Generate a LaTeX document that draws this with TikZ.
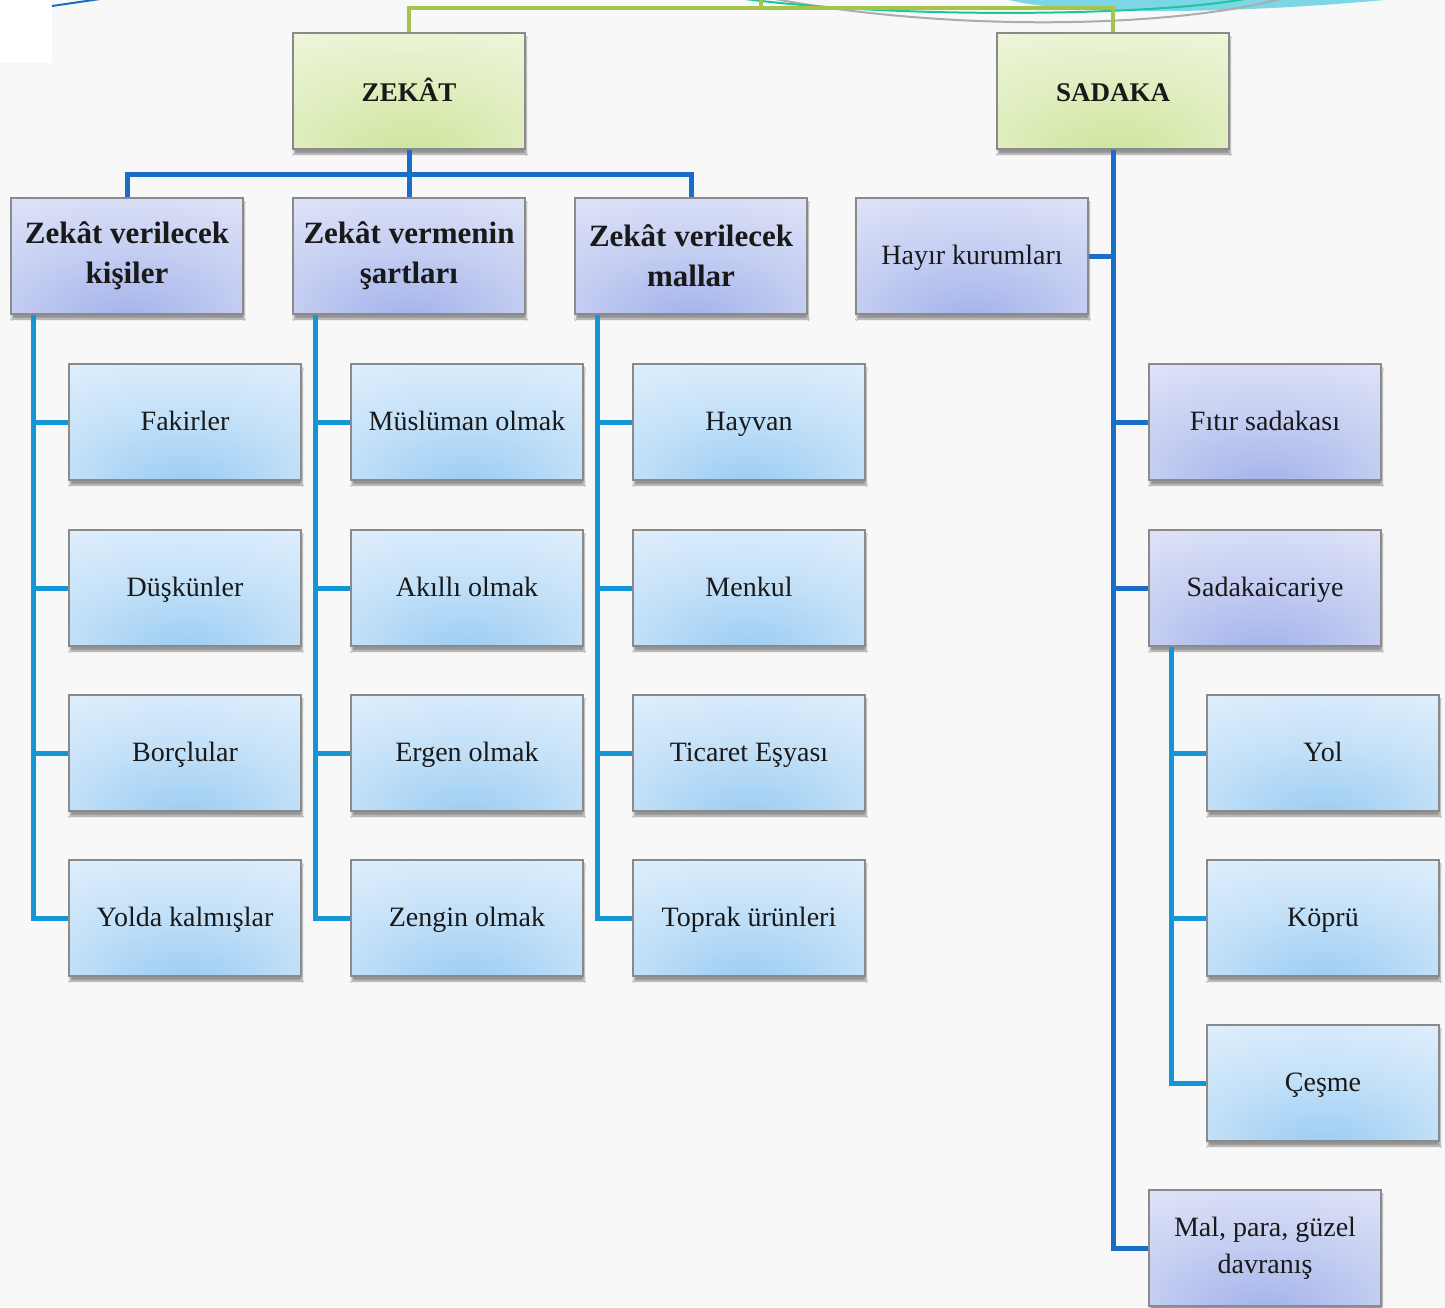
\documentclass[tikz,border=0pt]{standalone}
\usepackage{fontspec}
\setmainfont{Liberation Serif}
\usetikzlibrary{shadows.blur,calc}
\definecolor{bgc}{HTML}{F8F8F8}
\definecolor{leafin}{HTML}{98CBF3}
\definecolor{leafmid}{HTML}{C4E1F8}
\definecolor{leafout}{HTML}{E8F3FD}
\definecolor{lavin}{HTML}{A1B0EA}
\definecolor{lavmid}{HTML}{C6CFF2}
\definecolor{lavout}{HTML}{E7EAF9}
\definecolor{grnin}{HTML}{CDE49A}
\definecolor{grnmid}{HTML}{E0EEC0}
\definecolor{grnout}{HTML}{F3F8E5}
\definecolor{darkblue}{HTML}{1A6EC7}
\definecolor{lightblue}{HTML}{1496D6}
\definecolor{grline}{HTML}{A4C44A}
\definecolor{blobc}{HTML}{7DD6E6}
\definecolor{tealc}{HTML}{1CC79E}
\definecolor{borderc}{HTML}{8A8A8A}
\pgfdeclareradialshading{leafsh}{\pgfpoint{0bp}{-30bp}}{color(0bp)=(leafin); color(26bp)=(leafmid); color(55bp)=(leafout); color(100bp)=(leafout)}
\pgfdeclareradialshading{lavsh}{\pgfpoint{0bp}{-30bp}}{color(0bp)=(lavin); color(26bp)=(lavmid); color(55bp)=(lavout); color(100bp)=(lavout)}
\pgfdeclareradialshading{grnsh}{\pgfpoint{0bp}{-30bp}}{color(0bp)=(grnin); color(26bp)=(grnmid); color(55bp)=(grnout); color(100bp)=(grnout)}
\tikzset{
  boxbase/.style={draw=borderc, line width=1.4pt, minimum width=232pt, minimum height=116pt,
    inner sep=0pt, align=center, text=black!90,
    blur shadow={shadow xshift=1pt, shadow yshift=-5pt, shadow blur steps=6, shadow opacity=40}},
  oneline/.style={text height=19pt, text depth=3pt},
  leafbox/.style={boxbase, oneline, shading=leafsh, font=\fontsize{28}{40}\selectfont},
  lavbox/.style={boxbase, oneline, shading=lavsh, font=\fontsize{28}{40}\selectfont},
  lavtwo/.style={boxbase, shading=lavsh, font=\fontsize{28}{37}\selectfont},
  catbox/.style={boxbase, shading=lavsh, font=\fontsize{31}{40}\selectfont\bfseries},
  topbox/.style={boxbase, shading=grnsh, text height=20pt, text depth=0pt, font=\fontsize{27}{40}\selectfont\bfseries},
  dconn/.style={draw=darkblue, line width=5pt},
  lconn/.style={draw=lightblue, line width=5pt},
  gconn/.style={draw=grline, line width=4.5pt}
}
\begin{document}
\begin{tikzpicture}[x=1pt,y=-1pt]
\useasboundingbox (0,0) rectangle (1445,1307);
\fill[bgc] (0,0) rectangle (1445,1307);
\fill[white] (0,0) rectangle (52,63);
% decorative top curves
\fill[blobc] (1005,-1) .. controls (1070,17) and (1250,13) .. (1395,-1) -- cycle;
\draw[gray!65, line width=2pt] (775,-1) .. controls (950,32) and (1170,28) .. (1280,-1);
\draw[tealc, line width=2pt] (745,-1) .. controls (900,19) and (1150,16) .. (1245,-1);
\draw[darkblue, line width=2pt] (52,6) -- (100,-1);

% nodes
\node[topbox] (zekat) at (409,91) {ZEKÂT};
\node[topbox] (sadaka) at (1113,91) {SADAKA};

\node[catbox] (zk1) at (127,256) {Zekât verilecek\\kişiler};
\node[catbox] (zk2) at (409,256) {Zekât vermenin\\şartları};
\node[catbox] (zk3) at (691,256) {Zekât verilecek\\mallar};
\node[lavbox] (hayir) at (972,256) {Hayır kurumları};

\node[leafbox] (a1) at (185,422) {Fakirler};
\node[leafbox] (a2) at (185,588) {Düşkünler};
\node[leafbox] (a3) at (185,753) {Borçlular};
\node[leafbox] (a4) at (185,918) {Yolda kalmışlar};

\node[leafbox] (b1) at (467,422) {Müslüman olmak};
\node[leafbox] (b2) at (467,588) {Akıllı olmak};
\node[leafbox] (b3) at (467,753) {Ergen olmak};
\node[leafbox] (b4) at (467,918) {Zengin olmak};

\node[leafbox] (c1) at (749,422) {Hayvan};
\node[leafbox] (c2) at (749,588) {Menkul};
\node[leafbox] (c3) at (749,753) {Ticaret Eşyası};
\node[leafbox] (c4) at (749,918) {Toprak ürünleri};

\node[lavbox] (fitir) at (1265,422) {Fıtır sadakası};
\node[lavbox] (sadakai) at (1265,588) {Sadakaicariye};
\node[leafbox] (yol) at (1323,753) {Yol};
\node[leafbox] (kopru) at (1323,918) {Köprü};
\node[leafbox] (cesme) at (1323,1083) {Çeşme};
\node[lavtwo] (mal) at (1265,1248) {Mal, para, güzel\\davranış};

% green connectors
\coordinate (gbus) at (761,8);
\coordinate (gtop) at (761,-1);
\draw[gconn] (zekat.north) |- (gbus) -| (sadaka.north);
\draw[gconn] (gbus) -- (gtop);

% zekat connectors
\coordinate (zbus) at (409,174);
\draw[dconn] (zekat.south) -- (zk2.north);
\draw[dconn] (zk1.north) |- (zbus) -| (zk3.north);

% leaf connectors
\foreach \p/\l in {zk1/a1,zk1/a2,zk1/a3,zk1/a4,zk2/b1,zk2/b2,zk2/b3,zk2/b4,zk3/c1,zk3/c2,zk3/c3,zk3/c4,sadakai/yol,sadakai/kopru,sadakai/cesme}
  \draw[lconn] ([xshift=23pt]\p.south west) |- (\l.west);

% sadaka connectors
\draw[dconn] (sadaka.south) |- (hayir.east);
\foreach \l in {fitir,sadakai,mal}
  \draw[dconn] (sadaka.south) |- (\l.west);
\end{tikzpicture}
\end{document}
